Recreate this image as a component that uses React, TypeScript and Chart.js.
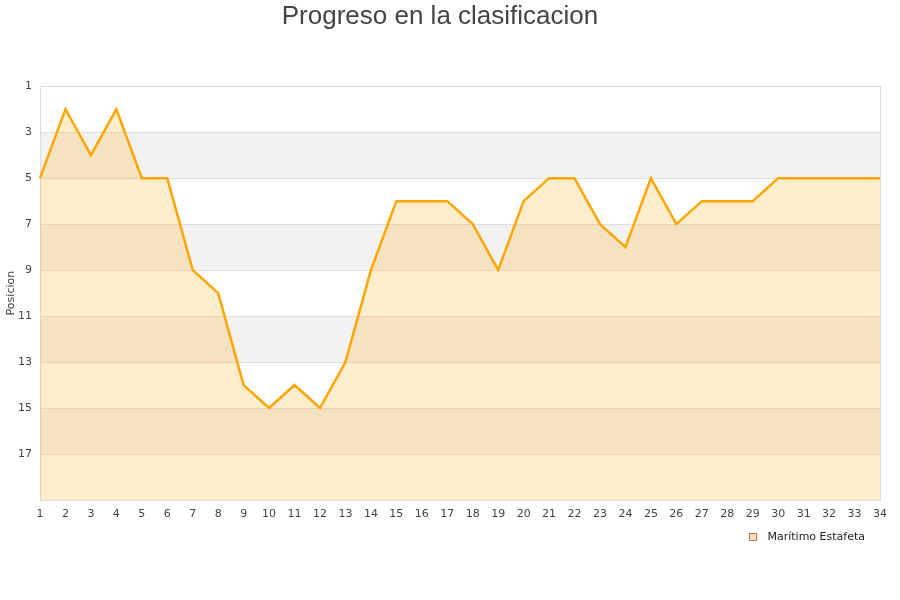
import React, { useEffect, useRef } from "react";
import { Chart, registerables } from "chart.js";

Chart.register(...registerables);

const jornadas: string[] = Array.from({ length: 34 }, (_, i) => String(i + 1));
const posiciones: number[] = [5, 2, 4, 2, 5, 5, 9, 10, 14, 15, 14, 15, 13, 9, 6, 6, 6, 7, 9, 6, 5, 5, 7, 8, 5, 7, 6, 6, 6, 5, 5, 5, 5, 5];
const teamName = "Marítimo Estafeta";
const chartTitle = "Progreso en la clasificacion";
const yTitle = "Posicion";
const bandRanges: [number, number][] = [[3, 5], [7, 9], [11, 13], [15, 17]];

const bandsPlugin = {
  id: "bands",
  beforeDatasetsDraw(chart: any) {
    const { ctx, chartArea, scales } = chart;
    const y = scales.y;
    ctx.save();
    ctx.fillStyle = "#f2f2f2";
    for (const [a, b] of bandRanges) {
      const y1 = y.getPixelForValue(a);
      const y2 = y.getPixelForValue(b);
      ctx.fillRect(chartArea.left, Math.min(y1, y2), chartArea.right - chartArea.left, Math.abs(y2 - y1));
    }
    ctx.strokeStyle = "#dddddd";
    ctx.lineWidth = 1;
    for (let v = 1; v <= 19; v += 2) {
      const py = Math.round(y.getPixelForValue(v)) + 0.5;
      ctx.beginPath();
      ctx.moveTo(chartArea.left, py);
      ctx.lineTo(chartArea.right, py);
      ctx.stroke();
    }
    ctx.strokeRect(
      Math.round(chartArea.left) + 0.5,
      Math.round(chartArea.top) + 0.5,
      Math.round(chartArea.right - chartArea.left),
      Math.round(chartArea.bottom - chartArea.top)
    );
    ctx.restore();
  },
  afterDraw(chart: any) {
    const { ctx, chartArea } = chart;
    ctx.save();
    ctx.font = "11px 'DejaVu Sans', sans-serif";
    const tw = ctx.measureText(teamName).width;
    const cy = chartArea.bottom + 37;
    const textRight = chartArea.right - 15;
    const textX = textRight - tw;
    const boxX = textX - 18;
    ctx.fillStyle = "rgba(255,225,180,1)";
    ctx.fillRect(boxX, cy - 4, 8, 8);
    ctx.strokeStyle = "#a08060";
    ctx.lineWidth = 1;
    ctx.strokeRect(Math.round(boxX) + 0.5, Math.round(cy - 4) + 0.5, 7, 7);
    ctx.fillStyle = "#222222";
    ctx.textBaseline = "middle";
    ctx.textAlign = "left";
    ctx.fillText(teamName, textX, cy);
    ctx.restore();
  },
};

export default function App() {
  const ref = useRef<HTMLCanvasElement | null>(null);
  useEffect(() => {
    document.body.style.margin = "0";
    const c = ref.current;
    if (!c) return;
    const chart = new Chart(c, {
      type: "line",
      data: {
        labels: jornadas,
        datasets: [
          {
            label: teamName,
            data: posiciones,
            borderColor: "#ffa500",
            backgroundColor: "rgba(255,165,0,0.2)",
            borderWidth: 2.5,
            pointRadius: 0,
            tension: 0,
            fill: "start",
          },
        ],
      },
      plugins: [bandsPlugin],
      options: {
        animation: false,
        responsive: false,
        maintainAspectRatio: false,
        layout: { padding: { left: 0, right: 20, top: 1, bottom: 77 } },
        plugins: {
          title: {
            display: true,
            text: chartTitle,
            color: "#444444",
            font: { family: "'Liberation Sans', Arial, sans-serif", size: 26, weight: "normal" },
            padding: { top: 0, bottom: 54 },
          },
          legend: { display: false },
          tooltip: { enabled: false },
        },
        scales: {
          x: {
            offset: false,
            grid: { display: false, drawTicks: false },
            border: { display: false },
            ticks: {
              color: "#444444",
              font: { family: "'DejaVu Sans', sans-serif", size: 11 },
              maxRotation: 0,
              autoSkip: false,
              padding: 8,
            },
            afterFit: (s: any) => {
              s.height = 23;
            },
          },
          y: {
            reverse: true,
            min: 1,
            max: 19,
            grid: { display: false, drawTicks: false },
            border: { display: false },
            title: {
              display: true,
              text: yTitle,
              color: "#444444",
              font: { family: "'DejaVu Sans', sans-serif", size: 11 },
              padding: { top: 5, bottom: 0 },
            },
            ticks: {
              stepSize: 2,
              color: "#444444",
              font: { family: "'DejaVu Sans', sans-serif", size: 11 },
              padding: 8,
              callback: (v: any) => (v === 19 ? "" : String(v)),
            },
            afterFit: (s: any) => {
              s.width = 40;
            },
          },
        },
      },
    });
    return () => chart.destroy();
  }, []);
  return (
    <div style={{ width: 900, height: 600, position: "relative" }}>
      <canvas ref={ref} width={900} height={600} style={{ width: 900, height: 600, display: "block" }} />
    </div>
  );
}
